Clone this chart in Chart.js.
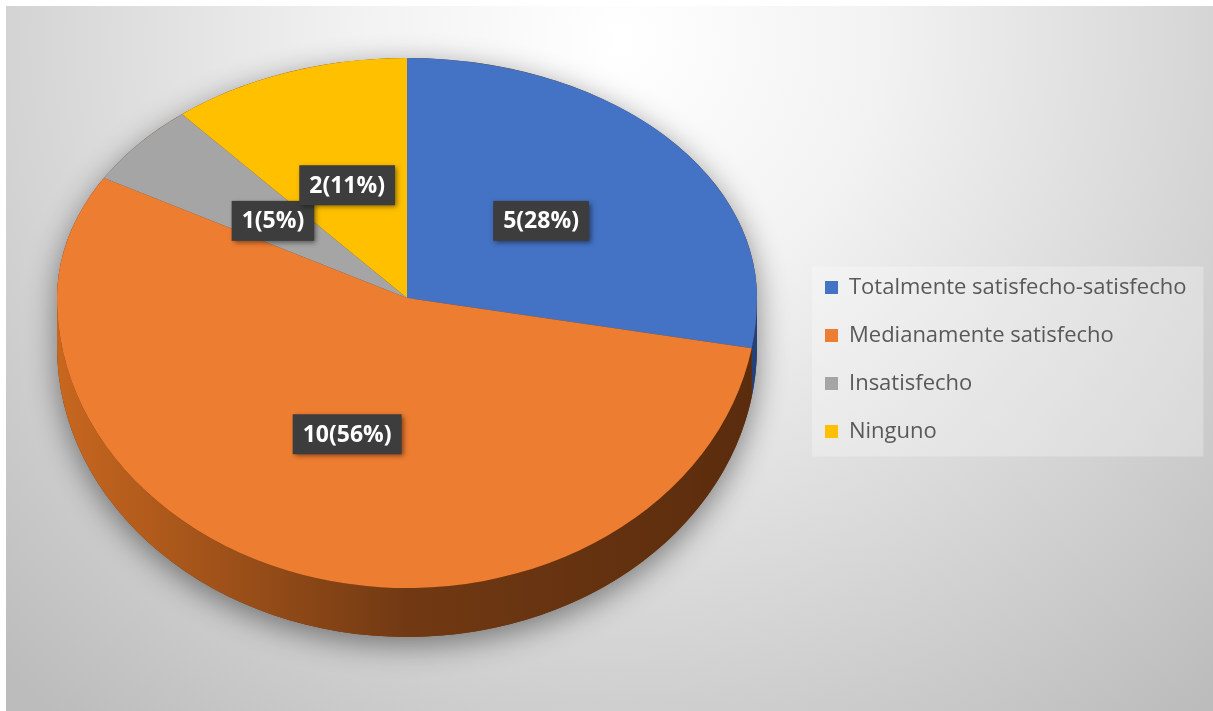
<!DOCTYPE html>
<html>
<head>
<meta charset="utf-8">
<script src="https://cdn.jsdelivr.net/npm/chart.js@4.4.1/dist/chart.umd.min.js"></script>
<style>
  html, body { margin: 0; padding: 0; background: #fff; overflow: hidden; }
  #myChart { display: block; }
</style>
</head>
<body>
<canvas id="myChart" width="1213" height="711"></canvas>
<script>
// Values
var categories = ['Totalmente satisfecho-satisfecho', 'Medianamente satisfecho', 'Insatisfecho', 'Ninguno'];
var counts = [5, 10, 1, 2];
var percentLabels = [28, 56, 5, 11];

// Excel style colours (top face, then side light/mid/dark)
var sliceColors = ['#4472C4', '#ED7D31', '#A5A5A5', '#FFC000'];
var sideColors = [
    ['#3a62aa', '#2c4d8a', '#22407a'],
    ['#c8671f', '#713913', '#5a2c0d'],
    ['#8a8a8a', '#6a6a6a', '#555555'],
    ['#d9a300', '#a07800', '#8a6800']
];

// Where the tilted pie sits on the page
var pieX = 407, pieY = 298;
var radiusX = 350, radiusBack = 240, radiusFront = 290, depth = 49;

var legendFont = { family: 'Open Sans', size: 22 };
var legendBox = 13, legendPad = 26;

// measure the longest legend text so the legend lands where it should
var measureCtx = document.createElement('canvas').getContext('2d');
measureCtx.font = legendFont.size + 'px "' + legendFont.family + '"';
var longest = 0;
categories.forEach(function (c) {
    longest = Math.max(longest, measureCtx.measureText(c).width);
});
var itemWidth = legendBox + legendFont.size / 2 + longest;
var rightPad = Math.max(0, 1213 - 825 - itemWidth - 10);

// map a point of the flat chart.js pie onto the tilted one
function toScreen(arc, x, y) {
    var r = arc.outerRadius;
    var ry = y < arc.y ? radiusBack : radiusFront;
    return { x: pieX + (x - arc.x) * radiusX / r, y: pieY + (y - arc.y) * ry / r };
}

var tiltPlugin = {
    id: 'tilt',
    beforeDraw: function (chart) {
        var ctx = chart.ctx;
        var w = chart.width, h = chart.height;
        ctx.save();
        ctx.fillStyle = '#ffffff';
        ctx.fillRect(0, 0, w, h);
        var bg = ctx.createRadialGradient(620, 40, 0, 620, 40, 880);
        bg.addColorStop(0, '#ffffff');
        bg.addColorStop(0.3, '#f2f2f2');
        bg.addColorStop(1, '#bcbcbc');
        ctx.fillStyle = bg;
        ctx.fillRect(6, 6, w - 6, h - 6);

        // light backdrop behind the legend
        var hb = chart.legend.legendHitBoxes;
        if (hb && hb.length) {
            var last = hb[hb.length - 1];
            var maxW = 0;
            hb.forEach(function (b) { maxW = Math.max(maxW, b.width); });
            ctx.fillStyle = 'rgba(255,255,255,0.28)';
            ctx.fillRect(hb[0].left - 13, hb[0].top - 10, maxW + 30, last.top + last.height - hb[0].top + 24);
        }
        ctx.restore();
    },
    beforeDatasetsDraw: function (chart) {
        var ctx = chart.ctx;
        var arcs = chart.getDatasetMeta(0).data;
        var a0 = arcs[0];

        // soft shadow of the whole disc
        ctx.save();
        ctx.shadowColor = 'rgba(0,0,0,0.45)';
        ctx.shadowBlur = 30;
        ctx.shadowOffsetY = 8;
        ctx.fillStyle = '#6a3410';
        ctx.beginPath();
        ctx.ellipse(pieX, pieY, radiusX, radiusBack, 0, Math.PI, 2 * Math.PI);
        ctx.lineTo(pieX + radiusX, pieY + depth);
        ctx.ellipse(pieX, pieY + depth, radiusX, radiusFront, 0, 0, Math.PI);
        ctx.closePath();
        ctx.fill();
        ctx.restore();

        // front wall of each slice
        arcs.forEach(function (arc, i) {
            var s = Math.max(arc.startAngle, 0);
            var e = Math.min(arc.endAngle, Math.PI);
            if (e <= s) return;
            var g = ctx.createLinearGradient(pieX - radiusX, 0, pieX + radiusX, 0);
            g.addColorStop(0, sideColors[i][0]);
            g.addColorStop(0.5, sideColors[i][1]);
            g.addColorStop(1, sideColors[i][2]);
            ctx.save();
            ctx.fillStyle = g;
            ctx.beginPath();
            ctx.ellipse(pieX, pieY, radiusX, radiusFront, 0, s, e);
            ctx.ellipse(pieX, pieY + depth, radiusX, radiusFront, 0, e, s, true);
            ctx.closePath();
            ctx.fill();
            ctx.restore();
        });

        // top face: back half and front half get their own squash
        var halves = [[radiusBack, 0, pieY + 1], [radiusFront, pieY, chart.height]];
        halves.forEach(function (h) {
            ctx.save();
            ctx.beginPath();
            ctx.rect(0, h[1], chart.width, h[2] - h[1]);
            ctx.clip();
            ctx.translate(pieX, pieY);
            ctx.scale(radiusX / a0.outerRadius, h[0] / a0.outerRadius);
            ctx.translate(-a0.x, -a0.y);
            arcs.forEach(function (arc) { arc.draw(ctx); });
            ctx.restore();
        });
        return false;
    },
    afterDraw: function (chart) {
        var ctx = chart.ctx;
        var arcs = chart.getDatasetMeta(0).data;
        ctx.save();
        ctx.font = 'bold 23px "Open Sans"';
        ctx.textAlign = 'center';
        ctx.textBaseline = 'middle';
        arcs.forEach(function (arc, i) {
            var c = arc.tooltipPosition();
            var p = toScreen(arc, c.x, c.y);
            var text = counts[i] + '(' + percentLabels[i] + '%)';
            var tw = ctx.measureText(text).width;
            var bw = tw + 20, bh = 40;
            ctx.shadowColor = 'rgba(0,0,0,0.5)';
            ctx.shadowBlur = 5;
            ctx.shadowOffsetX = 2;
            ctx.shadowOffsetY = 2;
            ctx.fillStyle = '#3d3d3d';
            ctx.fillRect(p.x - bw / 2, p.y - bh / 2, bw, bh);
            ctx.shadowColor = 'transparent';
            ctx.fillStyle = '#ffffff';
            ctx.fillText(text, p.x, p.y + 1);
        });
        ctx.restore();
    }
};

var myChart = new Chart(document.getElementById('myChart'), {
    type: 'pie',
    data: {
        labels: categories,
        datasets: [{
            data: counts,
            backgroundColor: sliceColors,
            borderWidth: 0
        }]
    },
    options: {
        responsive: false,
        animation: false,
        events: [],
        devicePixelRatio: 1,
        layout: {
            padding: { top: 8, right: rightPad, bottom: 0, left: 0 }
        },
        plugins: {
            tooltip: { enabled: false },
            legend: {
                position: 'right',
                labels: {
                    font: legendFont,
                    color: '#595959',
                    boxWidth: legendBox,
                    boxHeight: legendBox,
                    padding: legendPad
                }
            }
        }
    },
    plugins: [tiltPlugin]
});
</script>
</body>
</html>
